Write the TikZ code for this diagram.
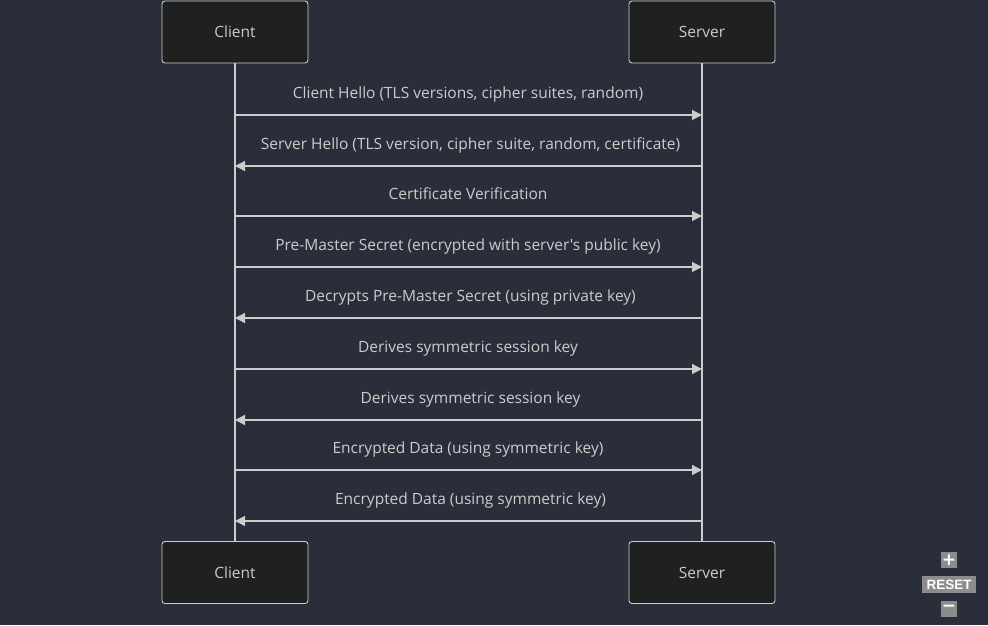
\documentclass[tikz,border=0pt]{standalone}
\usepackage{fontspec}
\newfontfamily\mmfont{Open Sans}
\usetikzlibrary{arrows.meta}
\definecolor{fond}{HTML}{2A2E3A}
\definecolor{trait}{HTML}{CCCCCC}
\definecolor{boite}{HTML}{1F2020}
\definecolor{bouton}{HTML}{8C8C8C}

\begin{document}
\begin{tikzpicture}[x=1pt, y=-1pt, font=\mmfont\fontsize{15.5}{18}\selectfont]
  \tikzstyle{acteur}=[draw=trait, fill=boite, rounded corners=3pt, line width=0.9pt, minimum width=146pt, minimum height=62pt, text=trait, inner sep=0];
  \tikzstyle{message}=[text=trait, inner sep=0, anchor=base];
  \tikzstyle{fleche}=[draw=trait, line width=1.3pt, -{Triangle[length=10pt, width=10pt]}];
  \tikzstyle{bouton}=[fill=bouton, text=white, inner sep=0, font=\fontspec{Liberation Sans}\bfseries\fontsize{13.5}{14}\selectfont];

  \fill[fond] (0, 0) rectangle (988, 625);
  \useasboundingbox (0, 0) rectangle (988, 625);

  \node[acteur] (C) at (235, 32) {Client};
  \node[acteur] (S) at (702, 32) {Server};
  \node[acteur] (Cb) at (235, 572.5) {Client};
  \node[acteur] (Sb) at (702, 572.5) {Server};

  \draw[trait, line width=1.3pt] (C) -- (Cb);
  \draw[trait, line width=1.3pt] (S) -- (Sb);

  \foreach \i/\y/\sens/\txt in {
    1/115/d/{Client Hello (TLS versions, cipher suites, random)},
    2/166/g/{Server Hello (TLS version, cipher suite, random, certificate)},
    3/216/d/{Certificate Verification},
    4/267/d/{Pre-Master Secret (encrypted with server's public key)},
    5/318/g/{Decrypts Pre-Master Secret (using private key)},
    6/369/d/{Derives symmetric session key},
    7/420/g/{Derives symmetric session key},
    8/470/d/{Encrypted Data (using symmetric key)},
    9/521/g/{Encrypted Data (using symmetric key)}} {
    \coordinate (C\i) at (235, \y);
    \coordinate (S\i) at (702, \y);
    \if\sens d
      \node[message] (M\i) at (468, \y-17) {\txt};
      \draw[fleche] (C\i) -- (S\i);
    \else
      \node[message] (M\i) at (470.5, \y-17) {\txt};
      \draw[fleche] (S\i) -- (C\i);
    \fi
  }

  \node[bouton, minimum width=16pt, minimum height=16pt, font=\fontspec{DejaVu Sans}\bfseries\fontsize{17}{17}\selectfont] (plus) at (949, 560) {+};
  \node[bouton, minimum width=54pt, minimum height=17pt] (reset) at (949, 584.5) {RESET};
  \node[bouton, minimum width=16pt, minimum height=16pt, font=\fontspec{DejaVu Sans}\bfseries\fontsize{17}{17}\selectfont] (moins) at (949, 608.5) {−};
\end{tikzpicture}
\end{document}
